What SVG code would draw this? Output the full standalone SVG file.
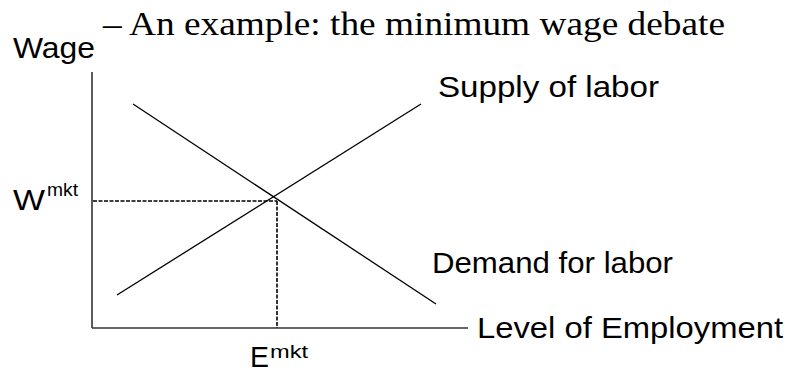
<svg xmlns="http://www.w3.org/2000/svg" width="791" height="370" viewBox="0 0 791 370">
<style>
.sans{font-family:"Liberation Sans",Arial,sans-serif;fill:#000;}
.serif{font-family:"Liberation Serif","Times New Roman",serif;fill:#000;}
.axis{stroke:#333;stroke-width:1.6;fill:none;}
.curve{stroke:#000;stroke-width:1.3;fill:none;}
.dot{stroke:#000;stroke-width:1.6;stroke-dasharray:4 1.5;fill:none;}
</style>
<rect width="791" height="370" fill="#fff"/>
<g id="title"><text class="serif" x="103" y="35" font-size="33" textLength="622" lengthAdjust="spacingAndGlyphs">– An example: the minimum wage debate</text></g>
<g id="axes">
<line class="axis" x1="92" y1="72" x2="92" y2="328"/>
<line class="axis" x1="92" y1="328" x2="468" y2="328"/>
</g>
<g id="connectors">
<line id="supply" class="curve" x1="117" y1="295" x2="421" y2="104"/>
<line id="demand" class="curve" x1="133" y1="104" x2="436" y2="304"/>
<line class="dot" x1="93" y1="201" x2="277" y2="201"/>
<line class="dot" x1="277" y1="201" x2="277" y2="328"/>
</g>
<g id="label-wage"><text class="sans" x="13" y="58" font-size="30" textLength="82" lengthAdjust="spacingAndGlyphs">Wage</text></g>
<g id="label-supply"><text class="sans" x="438" y="97" font-size="30" textLength="221" lengthAdjust="spacingAndGlyphs">Supply of labor</text></g>
<g id="label-demand"><text class="sans" x="432" y="273" font-size="30" textLength="241" lengthAdjust="spacingAndGlyphs">Demand for labor</text></g>
<g id="label-employment"><text class="sans" x="477" y="338" font-size="30" textLength="306" lengthAdjust="spacingAndGlyphs">Level of Employment</text></g>
<g id="label-wmkt"><text class="sans" x="13" y="210" font-size="30" textLength="32" lengthAdjust="spacingAndGlyphs">W</text><text class="sans" x="47" y="196" font-size="19" textLength="31" lengthAdjust="spacingAndGlyphs">mkt</text></g>
<g id="label-emkt"><text class="sans" x="250" y="367" font-size="30" textLength="19" lengthAdjust="spacingAndGlyphs">E</text><text class="sans" x="270" y="358" font-size="19" textLength="38" lengthAdjust="spacingAndGlyphs">mkt</text></g>
</svg>
